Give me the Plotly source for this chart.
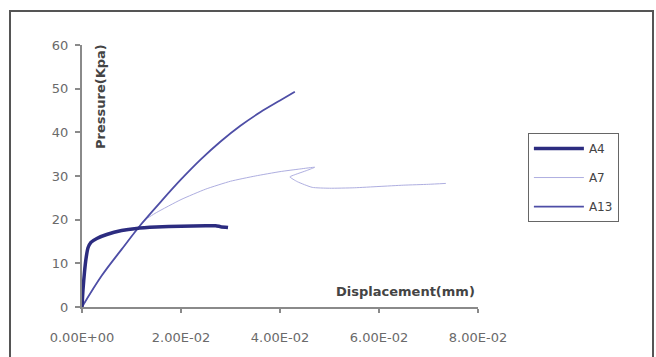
import plotly.graph_objects as go

# Pressure vs displacement curves for three specimens
a4_disp = [0, 0.0002, 0.0005, 0.0008, 0.0012, 0.0018, 0.003, 0.005, 0.008, 0.011,
           0.015, 0.02, 0.025, 0.027, 0.028, 0.0295]
a4_pres = [0, 4, 8, 11, 13.5, 14.8, 15.7, 16.6, 17.5, 18.0,
           18.3, 18.5, 18.6, 18.6, 18.4, 18.2]

a7_disp = [0, 0.004, 0.008, 0.0112, 0.0124, 0.015, 0.02, 0.025, 0.03, 0.035,
           0.04, 0.044, 0.047, 0.0455, 0.043, 0.042, 0.0435, 0.0465, 0.05, 0.055,
           0.06, 0.065, 0.07, 0.0735]
a7_pres = [0, 7.2, 13.2, 18, 19.7, 21.6, 24.6, 27, 28.8, 30,
           31, 31.6, 32, 31.3, 30.3, 29.8, 28.7, 27.4, 27.2, 27.3,
           27.6, 27.9, 28.1, 28.3]

a13_disp = [0, 0.004, 0.008, 0.012, 0.016, 0.020, 0.024, 0.028, 0.032, 0.036, 0.040, 0.043]
a13_pres = [0, 7.2, 13.2, 19.0, 24.2, 29.2, 33.8, 37.9, 41.5, 44.6, 47.3, 49.3]

x_ticks = [0, 0.02, 0.04, 0.06, 0.08]
x_tick_text = ["0.00E+00", "2.00E-02", "4.00E-02", "6.00E-02", "8.00E-02"]
y_ticks = [0, 10, 20, 30, 40, 50, 60]

FONT = "DejaVu Sans"
AXIS_GRAY = "#8a8a8a"

fig = go.Figure()
fig.add_trace(go.Scatter(x=a7_disp, y=a7_pres, mode="lines", name="A7",
                         line=dict(color="#aeaee0", width=1, shape="spline", smoothing=0.5),
                         legendrank=2, legendgroup="g2"))
fig.add_trace(go.Scatter(x=a13_disp, y=a13_pres, mode="lines", name="A13",
                         line=dict(color="#4e4ea6", width=1.8, shape="spline", smoothing=1),
                         legendrank=3, legendgroup="g3"))
fig.add_trace(go.Scatter(x=a4_disp, y=a4_pres, mode="lines", name="A4",
                         line=dict(color="#2c2c80", width=3.5, shape="spline", smoothing=0.6),
                         legendrank=1, legendgroup="g1"))

W, H = 396, 262  # plot area size in pixels
L, B = 82, 307   # plot area left edge / bottom edge in pixels

fig.update_layout(
    width=656, height=357,
    margin=dict(l=82, r=178, t=45, b=50),
    paper_bgcolor="white", plot_bgcolor="white",
    font=dict(family=FONT, size=12, color="#555"),
    showlegend=True,
    legend=dict(x=1.126, y=0.664, xanchor="left", yanchor="top",
                bordercolor="#666", borderwidth=1, bgcolor="white",
                font=dict(family=FONT, size=12, color="#444"),
                tracegroupgap=10, itemwidth=50),
    xaxis=dict(range=[0, 0.08], tickvals=x_ticks, ticktext=x_tick_text,
               showgrid=False, zeroline=False, showline=True, linecolor=AXIS_GRAY,
               linewidth=2, ticks="outside", ticklen=4, tickcolor=AXIS_GRAY, tickwidth=1.5,
               tickfont=dict(family=FONT, size=13, color="#6a6a6a"), ticklabelstandoff=13),
    yaxis=dict(range=[0, 60], tickvals=y_ticks,
               showgrid=False, zeroline=False, showline=True, linecolor=AXIS_GRAY,
               linewidth=2, ticks="outside", ticklen=5, tickcolor=AXIS_GRAY, tickwidth=1.5,
               tickfont=dict(family=FONT, size=13, color="#6a6a6a"), ticklabelstandoff=4),
    annotations=[
        dict(text="<b>Displacement(mm)</b>", xref="paper", yref="paper",
             x=(405 - L) / W, y=(B - 291) / H, xanchor="center", yanchor="middle",
             showarrow=False, font=dict(family=FONT, size=13, color="#444")),
        dict(text="<b>Pressure(Kpa)</b>", xref="paper", yref="paper",
             x=(100 - L) / W, y=(B - 97) / H, xanchor="center", yanchor="middle",
             textangle=-90, showarrow=False, font=dict(family=FONT, size=13, color="#444")),
    ],
    shapes=[
        dict(type="rect", xref="paper", yref="paper",
             x0=(10 - L) / W, x1=(653 - L) / W,
             y0=(B - 362) / H, y1=(B - 11) / H,
             line=dict(color="#555", width=2), fillcolor="rgba(0,0,0,0)", layer="below"),
    ],
)

fig.write_html("out.html")
